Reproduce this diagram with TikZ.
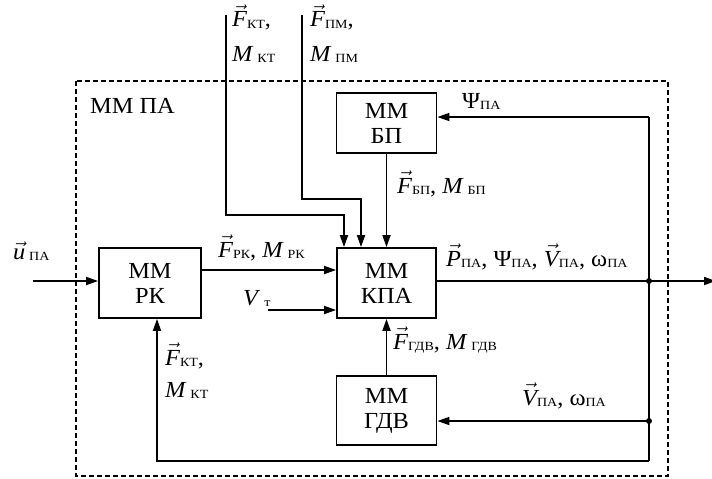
\documentclass[tikz,border=0pt]{standalone}
\usepackage{fontspec}
\setmainfont[FakeStretch=1.06]{Liberation Serif}
\newfontfamily\subfont[FakeStretch=1.12]{Liberation Serif}
\usetikzlibrary{arrows.meta}
\newcommand\sbs[1]{\raisebox{-1.5pt}{\subfont\fontsize{12.5}{12.5}\selectfont #1}}
\newcommand\vF[1]{$\vec{\mbox{\itshape #1}}$}
\newcommand\iF[1]{\textit{#1}}
\begin{document}
\begin{tikzpicture}[x=1pt,y=-1pt,
  every node/.style={font=\fontsize{23}{25}\selectfont, inner sep=0pt},
  blk/.style={draw, line width=1.8pt, align=center},
  lbl/.style={anchor=base west},
  conn/.style={line width=1.7pt},
  arr/.style={conn, -{Triangle[length=12pt,width=8pt]}},
  dot/.style={circle, fill, minimum size=6pt, inner sep=0pt}]
\useasboundingbox (0,0) rectangle (712,479);
% frame
\draw[line width=1.5pt, dash pattern=on 5pt off 3pt] (76,81) rectangle (668,476);
\node[lbl] (mmpa) at (90,113) {ММ ПА};
% blocks
\node[blk, minimum width=102pt, minimum height=70pt] (rk) at (150,283) {ММ\\РК};
\node[blk, minimum width=99pt, minimum height=70pt] (kpa) at (386.5,283) {ММ\\КПА};
\node[blk, minimum width=100pt, minimum height=60pt] (bp) at (386.5,123) {ММ\\БП};
\node[blk, minimum width=100pt, minimum height=69pt] (gdv) at (386.5,410.5) {ММ\\ГДВ};
% coordinates
\coordinate (inU) at (33,281);
\coordinate (vtS) at (268,310);
\coordinate (t1) at (226,15);
\coordinate (k1) at (344,215);
\coordinate (t2) at (302,15);
\coordinate (k2) at (361,199);
\coordinate (out) at (716,281);
\coordinate (jt) at (649,117);
\coordinate (jb) at (649,461);
\node[dot] (j1) at (649,281) {};
\node[dot] (j2) at (649,421) {};
% connectors
\draw[arr] (inU) -- (inU -| rk.west);
\draw[arr] ([yshift=13pt]rk.east) -- ([yshift=13pt]kpa.west);
\draw[arr] (vtS) -- (vtS -| kpa.west);
\draw[arr] (t1) |- (k1) -- (k1 |- kpa.north);
\draw[arr] (t2) |- (k2) -- (k2 |- kpa.north);
\draw[arr] (bp.south) -- (kpa.north);
\draw[arr] (gdv.north) -- (kpa.south);
\draw[arr] (j1 -| kpa.east) -- (out);
\draw[arr] (jt) -- (jt -| bp.east);
\draw[conn] (jt) -- (jb);
\draw[arr] (j2.center) -- (j2 -| gdv.east);
\draw[arr] (jb) -| ([xshift=7pt]rk.south);
% labels
\node[lbl] (lu) at (13,259) {$\vec{\mbox{\itshape u}}$\,\sbs{ПА}};
\node[lbl] (lt1a) at (232,27) {\vF{F}\sbs{КТ},};
\node[lbl] (lt1b) at (232,61) {\iF{M}\,\sbs{КТ}};
\node[lbl] (lt2a) at (310,27) {\vF{F}\sbs{ПМ},};
\node[lbl] (lt2b) at (310,61) {\iF{M}\,\sbs{ПМ}};
\node[lbl] (lrk) at (218,257) {\vF{F}\sbs{РК}, \iF{M}\,\sbs{РК}};
\node[lbl] (lvt) at (243,305) {\iF{V}\,\sbs{т}};
\node[lbl] (lbp) at (397,193) {\vF{F}\sbs{БП}, \iF{M}\,\sbs{БП}};
\node[lbl] (lpsi) at (462,108) {Ψ\sbs{ПА}};
\node[lbl] (lout) at (446,266) {\vF{P}\sbs{ПА}, Ψ\sbs{ПА}, \vF{V}\sbs{ПА}, ω\sbs{ПА}};
\node[lbl] (lgdv) at (393,349) {\vF{F}\sbs{ГДВ}, \iF{M}\,\sbs{ГДВ}};
\node[lbl] (lvw) at (522,405) {\vF{V}\sbs{ПА}, ω\sbs{ПА}};
\node[lbl] (lkta) at (165,365) {\vF{F}\sbs{КТ},};
\node[lbl] (lktb) at (165,397) {\iF{M}\,\sbs{КТ}};
\end{tikzpicture}
\end{document}
